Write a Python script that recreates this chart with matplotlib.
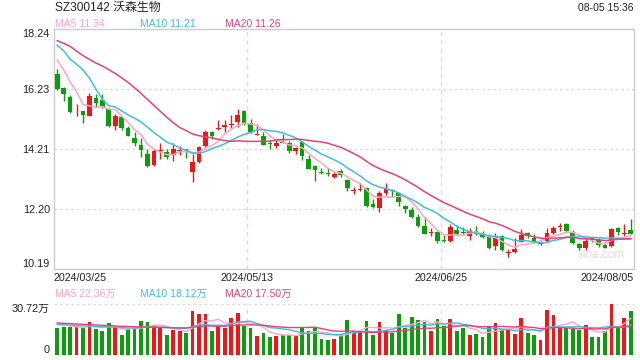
"""
plot.py
Daily K-line for SZ300142 (2024/03/25 - 2024/08/05) with MA5/10/20 and a volume panel.
"""

import matplotlib
matplotlib.use("Agg")
import matplotlib.pyplot as plt
import numpy as np
import pandas as pd

plt.rcParams["font.family"] = ["Liberation Sans", "Noto Sans CJK SC", "DejaVu Sans"]

# ── data, one entry per trading day ──
opens = [16.73, 16.27, 15.97, 15.44, 15.49, 15.33, 15.94, 15.86, 15.56, 14.99,
         15.29, 14.93, 14.59, 14.35, 14.06, 13.68, 14.15, 14.13, 14.02, 14.15,
         14.19, 13.46, 13.77, 14.33, 14.77, 14.88, 14.95, 15.03, 15.13, 15.49,
         15.08, 14.70, 14.66, 14.38, 14.33, 14.44, 14.41, 14.16, 14.44, 13.88,
         13.65, 13.43, 13.38, 13.29, 13.48, 13.18, 12.81, 12.83, 12.90, 12.37,
         12.23, 12.75, 12.82, 12.73, 12.30, 12.17, 11.92, 11.63, 11.40, 11.42,
         11.14, 11.14, 11.50, 11.40, 11.30, 11.47, 11.36, 11.28, 10.97, 11.30,
         10.74, 10.75, 11.11, 11.39, 11.24, 11.04, 11.13, 11.39, 11.60, 11.69,
         11.44, 11.02, 10.89, 11.20, 11.16, 11.00, 10.97, 11.56, 11.38, 11.50]
highs = [16.90, 16.30, 16.03, 15.72, 15.50, 16.08, 16.05, 16.05, 15.60, 15.38,
         15.32, 15.00, 14.77, 14.57, 14.21, 14.21, 14.41, 14.22, 14.41, 14.31,
         14.21, 14.04, 14.33, 14.85, 14.82, 15.19, 15.20, 15.34, 15.55, 15.53,
         15.22, 15.04, 14.77, 14.52, 14.52, 14.72, 14.48, 14.27, 14.48, 14.01,
         13.68, 13.57, 13.57, 13.45, 13.54, 13.21, 12.95, 13.06, 12.93, 12.53,
         12.82, 13.09, 12.86, 12.76, 12.32, 12.28, 12.03, 11.95, 11.58, 11.46,
         11.33, 11.69, 11.67, 11.61, 11.58, 11.64, 11.46, 11.35, 11.39, 11.33,
         10.86, 11.22, 11.52, 11.44, 11.35, 11.13, 11.56, 11.64, 11.72, 11.73,
         11.50, 11.05, 11.22, 11.27, 11.24, 11.11, 11.56, 11.61, 11.70, 11.87]
lows = [16.19, 15.84, 15.43, 15.33, 15.08, 15.32, 15.63, 15.58, 14.96, 14.84,
        14.84, 14.64, 14.33, 13.95, 13.62, 13.65, 13.88, 13.88, 13.82, 14.01,
        13.91, 13.10, 13.73, 14.29, 14.54, 14.85, 14.79, 14.91, 14.96, 15.02,
        14.74, 14.68, 14.35, 14.23, 14.26, 14.40, 14.07, 14.06, 13.85, 13.54,
        13.15, 13.37, 13.31, 13.23, 13.29, 12.82, 12.71, 12.82, 12.28, 12.23,
        12.09, 12.67, 12.62, 12.31, 12.08, 11.89, 11.61, 11.36, 11.30, 11.07,
        11.09, 11.11, 11.33, 11.36, 11.16, 11.33, 11.24, 10.87, 10.83, 10.80,
        10.59, 10.72, 11.10, 11.24, 11.05, 11.00, 11.11, 11.38, 11.47, 11.42,
        11.02, 10.83, 10.83, 11.11, 10.94, 10.88, 10.94, 11.33, 11.31, 11.35]
closes = [16.23, 16.05, 15.45, 15.46, 15.36, 16.00, 15.75, 15.63, 14.99, 15.32,
          14.93, 14.66, 14.42, 14.18, 13.66, 14.15, 14.16, 13.96, 14.21, 14.16,
          14.17, 13.78, 14.27, 14.77, 14.66, 14.90, 15.02, 15.05, 15.36, 15.08,
          14.77, 14.72, 14.35, 14.37, 14.43, 14.43, 14.16, 14.26, 13.99, 13.55,
          13.52, 13.42, 13.37, 13.37, 13.34, 12.90, 12.83, 12.85, 12.30, 12.28,
          12.74, 12.87, 12.80, 12.45, 12.20, 11.92, 11.64, 11.36, 11.42, 11.14,
          11.13, 11.59, 11.36, 11.39, 11.47, 11.36, 11.25, 10.88, 11.27, 10.83,
          10.76, 10.86, 11.33, 11.31, 11.11, 11.06, 11.39, 11.58, 11.62, 11.47,
          11.05, 10.91, 11.13, 11.19, 11.00, 10.91, 11.53, 11.42, 11.40, 11.35]
# volume in 万 (10k shares)
volumes = [16.0, 16.8, 16.8, 17.0, 16.0, 19.7, 15.4, 14.7, 19.0, 16.8,
           12.3, 15.4, 16.2, 20.3, 19.9, 17.8, 16.0, 12.3, 15.0, 14.3,
           13.5, 26.4, 24.6, 24.6, 14.3, 17.6, 16.0, 22.1, 25.2, 17.2,
           16.0, 11.7, 13.5, 11.1, 11.7, 12.1, 11.9, 11.7, 16.0, 14.7,
           16.6, 9.8, 8.8, 9.8, 12.7, 21.1, 14.7, 14.1, 20.5, 12.3,
           19.9, 15.2, 13.1, 24.6, 16.2, 22.7, 21.1, 19.9, 14.3, 21.5,
           17.2, 21.5, 14.3, 16.0, 11.9, 12.9, 10.6, 17.0, 19.3, 15.4,
           15.4, 12.9, 22.3, 13.1, 11.9, 9.2, 27.0, 24.0, 17.0, 16.2,
           15.4, 15.0, 17.8, 10.9, 10.6, 14.7, 30.72, 16.6, 22.1, 26.4]

# moving-average values at the left edge (history before this window)
ma5_head = [17.20, 16.87, 16.47, 16.14]
ma10_head = [17.70, 17.51, 17.23, 17.06, 16.87, 16.59, 16.23, 15.88, 15.67]
ma20_head = [17.85, 17.76, 17.66, 17.50, 17.35, 17.22, 17.10, 17.00, 16.88, 16.75,
             16.60, 16.45, 16.27, 16.08, 15.88, 15.68, 15.48, 15.28, 15.10]
vma5_head = [18.8, 18.3, 17.6, 17.0]
vma10_head = [18.4, 18.2, 18.0, 17.8, 17.6, 17.4, 17.2, 17.0, 16.9]
vma20_head = [19.3, 19.1, 18.9, 18.7, 18.5, 18.3, 18.1, 17.9, 17.7, 17.5,
              17.3, 17.2, 17.0, 16.9, 16.8, 16.7, 16.6, 16.5, 16.4]

price_ticks = [10.19, 12.20, 14.21, 16.23, 18.24]
vol_ticks = [0, 30.72]
vol_tick_labels = ["0", "30.72万"]
date_labels = ["2024/03/25", "2024/05/13", "2024/06/25", "2024/08/05"]
ma_labels = ["MA5 11.34", "MA10 11.21", "MA20 11.26"]
vma_labels = ["MA5 22.36万", "MA10 18.12万", "MA20 17.50万"]
title = "SZ300142 沃森生物"
stamp = "08-05 15:36"

RED = "#f21515"
GREEN = "#0a9e0a"
MA_COLORS = ["#ffa3c4", "#3fbfe0", "#ec3f78"]
GRID = "#dcdcdc"
TEXT = "#222222"


def moving_avg(values, n, head):
    out = pd.Series(values, dtype=float).rolling(n).mean().to_numpy()
    out[: n - 1] = head
    return out


def main() -> None:
    o = np.array(opens)
    h = np.array(highs)
    l = np.array(lows)
    c = np.array(closes)
    v = np.array(volumes)
    x = np.arange(len(c))
    up = c >= o
    colors = np.where(up, RED, GREEN)

    fig = plt.figure(figsize=(6.4, 3.6), dpi=100)
    ax = fig.add_axes([54 / 640, 91 / 360, 580 / 640, 240 / 360])
    axv = fig.add_axes([54 / 640, 5 / 360, 580 / 640, 51 / 360])

    # price panel
    for yv in price_ticks[1:-1]:
        ax.axhline(yv, color=GRID, lw=1, ls=(0, (2, 2)), zorder=0)
    for a in (ax, axv):
        for xv in (29.5, 59.5):
            a.axvline(xv, color=GRID, lw=1, ls=(0, (3, 3)), zorder=0)

    ax.vlines(x, l, h, colors=colors, lw=1, zorder=2)
    body_h = np.maximum(np.abs(c - o), 0.03)
    ax.bar(x, body_h, bottom=np.minimum(o, c), width=0.72, color=colors, lw=0, zorder=3)

    for n, head, col in zip((5, 10, 20), (ma5_head, ma10_head, ma20_head), MA_COLORS):
        ax.plot(x, moving_avg(c, n, head), color=col, lw=1.1, zorder=4)

    ax.set_xlim(-0.5, len(c) - 0.5)
    ax.set_ylim(price_ticks[0], price_ticks[-1])
    ax.set_xticks([])
    ax.set_yticks(price_ticks)
    ax.set_yticklabels([f"{t:.2f}" for t in price_ticks])
    ax.tick_params(axis="y", length=0, pad=3, labelsize=7.8, labelcolor=TEXT)
    tl = ax.get_yticklabels()
    tl[0].set_va("bottom")
    tl[-1].set_va("top")
    for s in ax.spines.values():
        s.set_color("#cccccc")
        s.set_linewidth(1)

    ax.text(0.985, 0.06, "sina.com", transform=ax.transAxes, ha="right", va="center",
            fontsize=8.5, color="#dddddd", zorder=1)

    pos = [(0, "left"), (1 / 3, "center"), (2 / 3, "center"), (1, "right")]
    for (px, ha), lab in zip(pos, date_labels):
        ax.text(px, -0.038, lab, transform=ax.transAxes, ha=ha, va="center",
                fontsize=7.7, color=TEXT)

    # volume panel
    axv.bar(x, v, width=0.58, color=colors, lw=0, zorder=2)
    for n, head, col in zip((5, 10, 20), (vma5_head, vma10_head, vma20_head), MA_COLORS):
        axv.plot(x, moving_avg(v, n, head), color=col, lw=1.0, zorder=3)
    axv.axhline(vol_ticks[-1], color=GRID, lw=1, ls=(0, (2, 2)), zorder=0)
    axv.set_xlim(-0.5, len(c) - 0.5)
    axv.set_ylim(vol_ticks[0], vol_ticks[-1])
    axv.set_xticks([])
    axv.set_yticks(vol_ticks)
    axv.set_yticklabels(vol_tick_labels)
    axv.tick_params(axis="y", length=0, pad=3, labelsize=7.8, labelcolor=TEXT)
    vl = axv.get_yticklabels()
    vl[0].set_va("bottom")
    vl[-1].set_va("top")
    for s in axv.spines.values():
        s.set_visible(False)

    # header texts
    fig.text(55 / 640, 1 - 8 / 360, title, ha="left", va="center", fontsize=8.6, color=TEXT)
    fig.text(634 / 640, 1 - 8 / 360, stamp, ha="right", va="center", fontsize=7.5, color=TEXT)
    for xp, lab, col in zip((55, 140, 225), ma_labels, MA_COLORS):
        fig.text(xp / 640, 1 - 24 / 360, lab, ha="left", va="center", fontsize=7.5, color=col)
    for xp, lab, col in zip((55, 140, 225), vma_labels, MA_COLORS):
        fig.text(xp / 640, 1 - 294 / 360, lab, ha="left", va="center", fontsize=7.5, color=col)

    fig.savefig("out.png", dpi=100, facecolor="white")
    plt.close(fig)


if __name__ == "__main__":
    main()
